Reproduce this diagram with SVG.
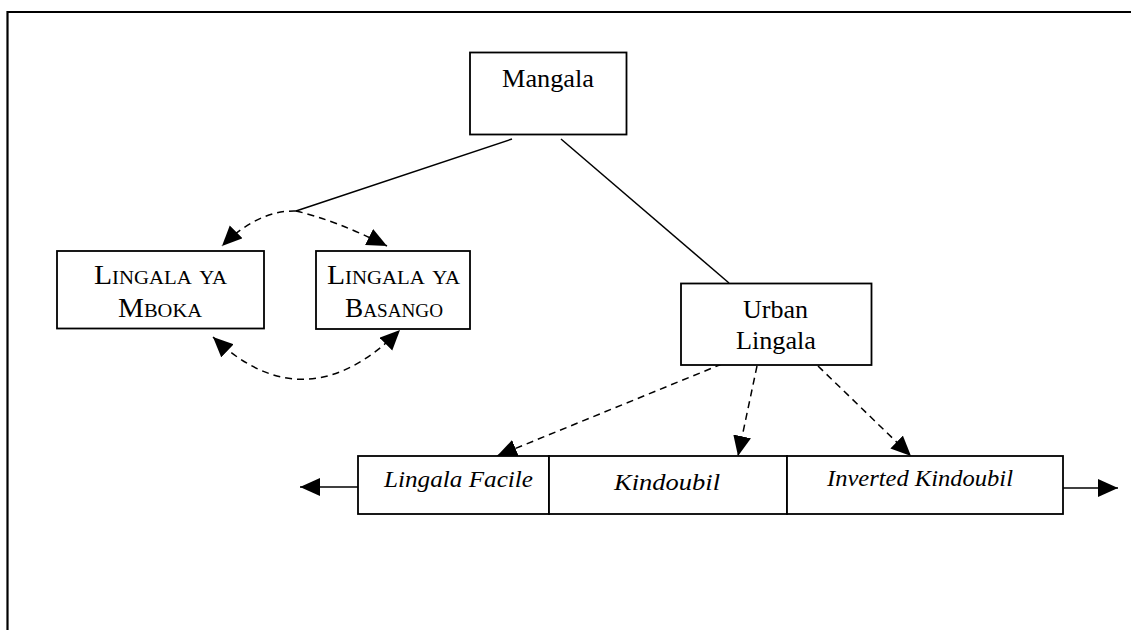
<svg xmlns="http://www.w3.org/2000/svg" width="1131" height="630" viewBox="0 0 1131 630">
<style>
.box{fill:#fff;stroke:#000;stroke-width:1.8}
.frame{fill:none;stroke:#000;stroke-width:2.2}
.ln{fill:none;stroke:#000;stroke-width:1.5}
.dash{fill:none;stroke:#000;stroke-width:1.5;stroke-dasharray:7 5}
.t{font-family:"Liberation Serif","Times New Roman",serif;font-size:26px;fill:#000}
.sc{font-variant:small-caps;font-size:27px}
.it{font-style:italic;font-size:23px}
</style>
<defs>
<marker id="ah" markerUnits="userSpaceOnUse" markerWidth="24" markerHeight="22" refX="20" refY="9" orient="auto-start-reverse">
<path d="M0,0 L20,9 L0,18 z" fill="#000"/>
</marker>
</defs>
<g id="frame">
<path class="frame" d="M7.5,630 L7.5,12 L1131,12"/>
</g>
<g id="connectors">
<line class="ln" x1="512" y1="139" x2="296" y2="211"/>
<line class="ln" x1="561" y1="139" x2="729" y2="283"/>
<path class="dash" d="M296,211 Q258,210 222,246" marker-end="url(#ah)"/>
<path class="dash" d="M296,211 Q335,220 387,246" marker-end="url(#ah)"/>
<path class="dash" d="M213,337 Q305,425 400,330" marker-start="url(#ah)" marker-end="url(#ah)"/>
<line class="dash" x1="722" y1="364" x2="497" y2="456" marker-end="url(#ah)"/>
<line class="dash" x1="757" y1="366" x2="738" y2="456" marker-end="url(#ah)"/>
<line class="dash" x1="818" y1="366" x2="911" y2="456" marker-end="url(#ah)"/>
<line class="ln" x1="358" y1="487" x2="300" y2="487" marker-end="url(#ah)"/>
<line class="ln" x1="1063" y1="488" x2="1118" y2="488" marker-end="url(#ah)"/>
</g>
<g id="mangala">
<rect class="box" x="470" y="52.5" width="156.5" height="82"/>
<text class="t" x="502" y="87" textLength="92" lengthAdjust="spacingAndGlyphs">Mangala</text>
</g>
<g id="mboka">
<rect class="box" x="57" y="251" width="207" height="77.5"/>
<text class="t sc" x="94" y="284" textLength="133" lengthAdjust="spacingAndGlyphs">Lingala ya</text>
<text class="t sc" x="118" y="317" textLength="84" lengthAdjust="spacingAndGlyphs">Mboka</text>
</g>
<g id="basango">
<rect class="box" x="316" y="251" width="154" height="78"/>
<text class="t sc" x="327" y="284" textLength="133" lengthAdjust="spacingAndGlyphs">Lingala ya</text>
<text class="t sc" x="345" y="317" textLength="98" lengthAdjust="spacingAndGlyphs">Basango</text>
</g>
<g id="urban">
<rect class="box" x="681" y="283.5" width="190.5" height="81.5"/>
<text class="t" x="743" y="318" textLength="65" lengthAdjust="spacingAndGlyphs">Urban</text>
<text class="t" x="736" y="349" textLength="80" lengthAdjust="spacingAndGlyphs">Lingala</text>
</g>
<g id="facile">
<rect class="box" x="358" y="456" width="191" height="58"/>
<text class="t it" x="384" y="487" textLength="149" lengthAdjust="spacingAndGlyphs">Lingala Facile</text>
</g>
<g id="kindoubil">
<rect class="box" x="549" y="456" width="238" height="58"/>
<text class="t it" x="614" y="490" font-size="25" textLength="106" lengthAdjust="spacingAndGlyphs">Kindoubil</text>
</g>
<g id="inverted">
<rect class="box" x="787" y="456" width="276" height="58"/>
<text class="t it" x="827" y="486" textLength="186" lengthAdjust="spacingAndGlyphs">Inverted Kindoubil</text>
</g>
</svg>
